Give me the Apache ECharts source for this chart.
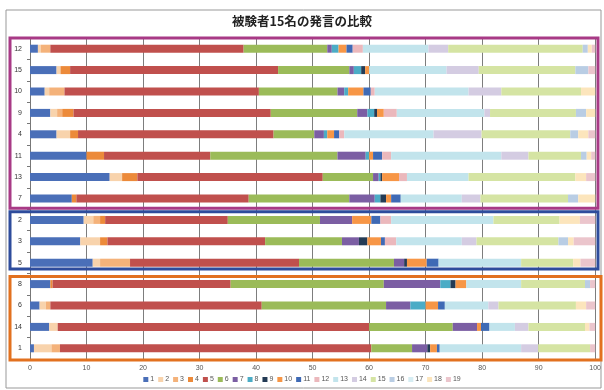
<!DOCTYPE html>
<html>
<head>
<meta charset="utf-8">
<script src="https://cdn.jsdelivr.net/npm/echarts@6/dist/echarts.min.js"></script>
<style>html,body{margin:0;padding:0;background:#fff}#c{width:604px;height:390px}</style>
</head>
<body>
<div id="c"></div>
<script>
const title = '被験者15名の発言の比較';
const subjects = ['12','15','10','9','4','11','13','7','2','3','5','8','6','14','1'];
const seriesNames = ['1','2','3','4','5','6','7','8','9','10','11','12','13','14','15','16','17','18','19'];
const xTicks = [0,10,20,30,40,50,60,70,80,90,100];
// one array per subject, values for categories 1..19 (percent)
const s12 = [1.4,0.5,1.7,0,34.2,14.8,0.8,1.2,0,1.4,1.1,1.8,11.6,3.5,23.8,0.9,0,0.7,0.6];
const s15 = [4.7,0.7,0,1.7,36.8,12.6,0.8,1.3,0.7,0.7,0,0,13.7,5.7,17.1,2.3,0,0,1.2];
const s10 = [2.6,0.8,2.7,0,34.4,13.9,1.2,0.7,0,2.7,1.3,0.7,16.6,5.8,14.1,0,0,2.5,0];
const s9  = [3.6,1.2,0.9,2.0,34.9,15.3,1.8,1.2,0.5,1.2,0,2.3,15.5,1.0,15.2,1.8,0,1.6,0];
const s4  = [4.7,2.4,0,1.4,34.6,7.2,1.7,0.6,0,1.2,0.9,0.9,15.8,8.5,15.7,1.4,0,1.8,1.2];
const s11 = [10,0,0,3.1,18.8,22.5,5.0,0.6,0,0.7,1.6,1.6,19.5,4.8,9.3,1.0,0,0.8,0.7];
const s13 = [14.1,2.2,0,2.7,32.8,8.9,1.0,0.3,0.3,3.0,0,1.4,10.9,0,18.9,0,0,1.9,1.6];
const s7  = [7.4,0,0,0.8,30.5,17.8,4.5,1.0,1.0,0.9,1.7,0,10.8,3.3,15.5,1.8,0,3.0,0];
const s2  = [9.5,1.7,1.2,0.9,21.7,16.3,5.7,0,0,3.4,1.6,1.9,18.1,0,11.7,0,0,3.6,2.7];
const s3  = [8.9,3.5,0,1.3,27.9,13.6,3.0,0,1.5,2.4,0.7,2.0,11.6,2.6,14.5,1.7,0,1.0,3.8];
const s5  = [11.1,1.3,5.3,0,29.9,16.8,1.8,0,0.5,3.5,2.1,0,14.6,0,9.2,0,0,1.3,2.6];
const s8  = [3.6,0,0,0.4,31.5,27.1,10.0,1.8,0.9,1.9,0,0,9.7,0,11.3,0.9,0,0,0.9];
const s6  = [1.7,1.1,0.8,0,37.4,22.0,4.3,2.7,0,2.2,1.2,0,7.7,1.8,13.7,0,0,1.8,1.6];
const s14 = [3.4,1.5,0,0,55.1,14.8,4.3,0,0,0.7,1.5,0,4.5,2.4,10.0,0,0,0.8,1.0];
const s1  = [0.7,3.1,1.5,0,55.1,7.2,2.7,0,0.5,1.2,0.5,0,14.4,3.0,9.2,0,0,0,0.9];

const rows = [s12,s15,s10,s9,s4,s11,s13,s7,s2,s3,s5,s8,s6,s14,s1];
const colors = ['#4A6FB8','#F8D3AC','#F4B27A','#EC8A3A','#C0504D','#9BBB59','#7B5EA3','#4BACC6','#243B55','#F79646',
                '#3F6AB5','#EBB8BC','#C2E4EC','#D4CCE2','#D5E4A3','#B9CDE4','#D6EDF3','#FCE5BC','#EBC5CC'];

const chart = echarts.init(document.getElementById('c'), null, {renderer:'canvas'});
const series = seriesNames.map((n, i) => ({
  name: n, type: 'bar', stack: 'all', barWidth: 8,
  itemStyle: {color: colors[i]},
  data: rows.map(r => r[i])
}));
chart.setOption({
  animation: false,
  color: colors,
  title: {text: title, left: 'center', top: 10,
    textStyle: {fontSize: 12.5, fontWeight: 'bold', color: '#222', fontFamily: 'Noto Sans CJK JP'}},
  grid: {left: 30, right: 6, top: 38, bottom: 31, containLabel: false},
  xAxis: {type: 'value', min: 0, max: 100, interval: 10,
    axisLine: {show: false}, axisTick: {show: false},
    splitLine: {lineStyle: {color: '#7d7d7d', width: 1}},
    axisLabel: {fontSize: 7, color: '#555', margin: 6, fontFamily: 'Liberation Sans',
      formatter: v => xTicks.includes(v) ? String(v) : ''}},
  yAxis: {type: 'category', data: subjects, inverse: true,
    axisLine: {lineStyle: {color: '#777'}},
    axisTick: {show: true, length: 3, lineStyle: {color: '#777'}},
    axisLabel: {fontSize: 7, color: '#333', margin: 8, fontFamily: 'Liberation Sans'}},
  legend: {bottom: 2, left: 'center', itemWidth: 5, itemHeight: 5, itemGap: 4,
    icon: 'rect', textStyle: {fontSize: 7, color: '#555', padding: [0,0,0,-3], fontFamily: 'Liberation Sans'}},
  series: series
});

function yOf(cat){ return chart.convertToPixel({yAxisIndex: 0}, cat); }
const band = yOf('15') - yOf('12');
const boxLeft = 10, boxRight = 598;
function box(topCat, topOff, botCat, botOff, color, rightExtra){
  const t = yOf(topCat) - topOff*band, b = yOf(botCat) + botOff*band;
  return {type: 'rect', shape: {x: boxLeft, y: t, width: boxRight - boxLeft + (rightExtra||0), height: b - t},
    style: {fill: 'none', stroke: color, lineWidth: 3}, z: 100};
}
chart.setOption({graphic: [
  {type: 'rect', shape: {x: 6, y: 10, width: 595, height: 378}, style: {fill: 'none', stroke: '#999', lineWidth: 1}, z: 90},
  box('12', 0.5, '7', 0.45, '#A83A86'),
  box('2', 0.38, '5', 0.3, '#2E4C9C'),
  box('8', 0.35, '1', 0.55, '#E2711F', 3)
]});
</script>
</body>
</html>
